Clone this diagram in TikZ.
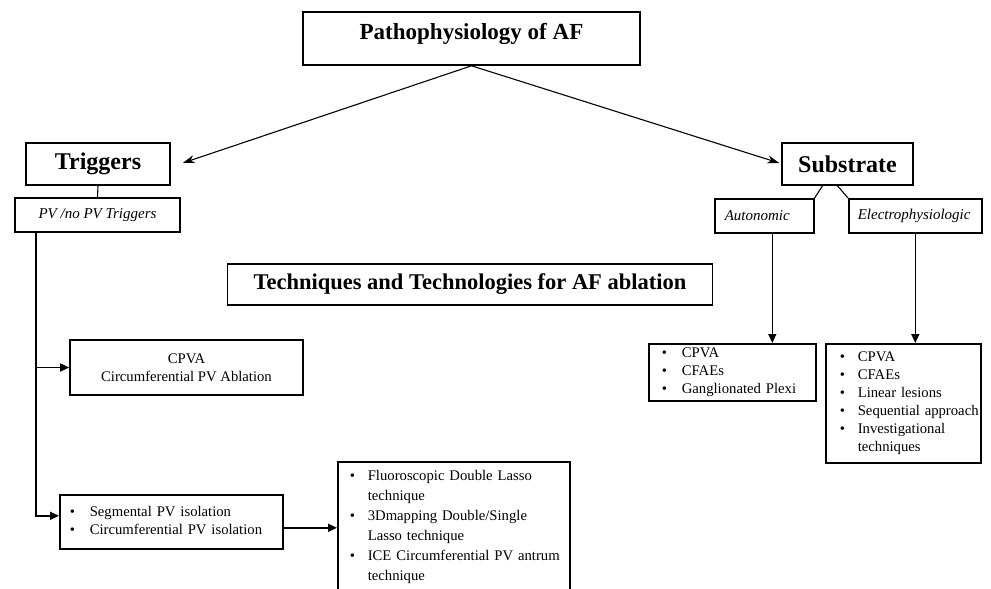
\documentclass[tikz,border=0pt]{standalone}
\usepackage{fontspec}
\setmainfont{Liberation Serif}
\usetikzlibrary{arrows.meta}

\tikzset{
	frame/.style={draw, line width=1.6pt, inner sep=0pt},
	headfont/.style={font=\fontsize{24}{28}\selectfont\bfseries},
	italfont/.style={font=\fontsize{15}{18}\selectfont\itshape},
	bodyfont/.style={font=\fontsize{14.7}{18}\selectfont},
	link/.style={line width=1.6pt},
}

\begin{document}
\begin{tikzpicture}[x=1pt, y=-1pt, >={Triangle[length=9pt,width=8pt]}]
	\useasboundingbox (0,0) rectangle (991,589);
	%title boxes
	\node[frame, minimum width=337pt, minimum height=53pt, text depth=14pt, font=\fontsize{23}{27}\selectfont\bfseries] (patho) at (471.5,38.5) {Pathophysiology of AF};
	\node[frame, minimum width=485pt, minimum height=41pt, font=\fontsize{22.5}{26}\selectfont\bfseries] (tech) at (470,284.5) {Techniques and Technologies for AF ablation};
	%
	% left branch
	\node[frame, headfont, minimum width=144pt, minimum height=42pt] (trig) at (98,164) {Triggers};
	\node[frame, italfont, minimum width=165pt, minimum height=34pt] (pv) at (97.5,215) {PV /no PV Triggers};
	\node[frame, bodyfont, align=center, minimum width=233pt, minimum height=55pt] (cpva) at (186.5,367.5) {CPVA\\[0pt]Circumferential PV Ablation};
	\node[frame, bodyfont, anchor=north west, inner xsep=10pt, text width=203pt, align=left, minimum height=54pt] (segm) at (59,494)
		{\begin{tabular}{@{}p{20pt}@{}l@{}}
		\textbullet & Segmental PV isolation\\
		\textbullet & Circumferential PV isolation
		\end{tabular}};
	\node[frame, anchor=north west, inner xsep=12pt, inner ysep=5pt, text width=208pt, align=left, text depth=112pt, font=\fontsize{14.7}{20}\selectfont] (fluoro) at (337,461)
		{\begin{tabular}[t]{@{}p{18pt}@{}l@{}}
		\textbullet & Fluoroscopic Double Lasso\\
		 & technique\\
		\textbullet & 3Dmapping Double/Single\\
		 & Lasso technique\\
		\textbullet & ICE Circumferential PV antrum\\
		 & technique
		\end{tabular}};
	%
	% right branch
	\node[frame, headfont, minimum width=131pt, minimum height=42pt] (sub) at (847.5,164) {Substrate};
	\node[frame, italfont, anchor=north west, inner xsep=10pt, text width=79pt, align=left, minimum height=34pt] (auto) at (714,198) {Autonomic};
	\node[frame, italfont, anchor=north west, inner xsep=9pt, text width=115pt, align=left, minimum height=34pt] (elec) at (848,198) {Electrophysiologic};
	\node[frame, bodyfont, anchor=north west, inner xsep=13pt, text width=141pt, align=left, minimum height=57pt] (autolist) at (648,343)
		{\begin{tabular}{@{}p{20pt}@{}l@{}}
		\textbullet & CPVA\\
		\textbullet & CFAEs\\
		\textbullet & Ganglionated Plexi
		\end{tabular}};
	\node[frame, bodyfont, anchor=north west, inner xsep=14pt, text width=127pt, align=left, minimum height=119pt] (eleclist) at (825,343)
		{\begin{tabular}{@{}p{18pt}@{}l@{}}
		\textbullet & CPVA\\
		\textbullet & CFAEs\\
		\textbullet & Linear lesions\\
		\textbullet & Sequential approach\\
		\textbullet & Investigational\\
		 & techniques
		\end{tabular}};
	%
	% connectors
	\draw[line width=1.1pt, -{Stealth[length=12pt,width=8pt]}] (patho.south) -- ([xshift=12pt,yshift=1pt]trig.east);
	\draw[line width=1.1pt, -{Stealth[length=12pt,width=8pt]}] (patho.south) -- ([xshift=-2pt,yshift=1pt]sub.west);
	\draw[line width=1.1pt] (trig.south) -- (pv.north);
	\draw[line width=1.1pt] ([xshift=-25pt]sub.south) -- (auto.north east);
	\draw[line width=1.1pt] ([xshift=-10pt]sub.south) -- (elec.north west);
	\draw[link, ->] ([xshift=8pt]auto.south) -- ([xshift=8pt]auto.south |- autolist.north);
	\draw[link, ->] (elec.south) -- (elec.south |- eleclist.north);
	\coordinate (trunk) at ([xshift=22pt]pv.south west);
	\draw[link, ->] (trunk) |- ([yshift=6pt]segm.west);
	\draw[link, ->] (trunk |- cpva.west) -- (cpva.west);
	\draw[link, ->] ([yshift=-6pt]segm.east) -- ([yshift=-6pt]segm.east -| fluoro.west);
\end{tikzpicture}
\end{document}
